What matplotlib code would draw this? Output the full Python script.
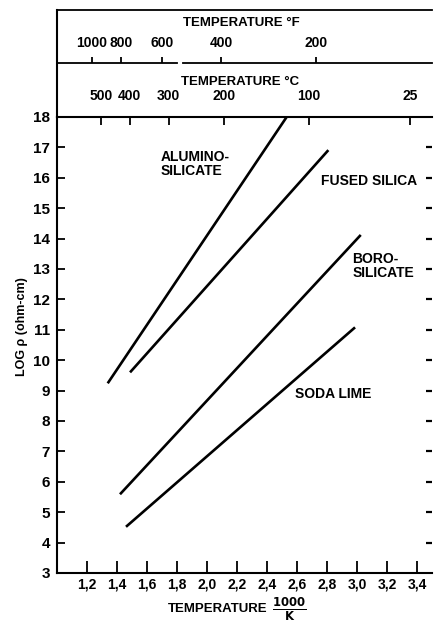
import matplotlib
matplotlib.use("Agg")
import matplotlib.pyplot as plt
import numpy as np

# ---- data ----
alumino_x = [1.338, 2.531]
alumino_y = [9.24, 18.0]
fused_x = [1.487, 2.809]
fused_y = [9.60, 16.91]
boro_x = [1.42, 3.025]
boro_y = [5.59, 14.12]
soda_x = [1.46, 2.987]
soda_y = [4.52, 11.08]

x_ticks = [1.2, 1.4, 1.6, 1.8, 2.0, 2.2, 2.4, 2.6, 2.8, 3.0, 3.2, 3.4]
x_ticklabels = ["1,2", "1,4", "1,6", "1,8", "2,0", "2,2", "2,4", "2,6", "2,8", "3,0", "3,2", "3,4"]
y_ticks = list(range(3, 19))
right_ticks = list(range(4, 18))
celsius_ticks = [500, 400, 300, 200, 100, 25]
fahrenheit_ticks = [1000, 800, 600, 400, 200]

FAM = ['Liberation Sans Narrow', 'Liberation Sans', 'DejaVu Sans']
plt.rcParams['font.family'] = FAM
plt.rcParams['font.weight'] = 'bold'
plt.rcParams['mathtext.fontset'] = 'custom'
plt.rcParams['mathtext.rm'] = 'Liberation Sans Narrow:bold'
plt.rcParams['mathtext.it'] = 'Liberation Sans Narrow:bold'

W, H = 434, 631
fig = plt.figure(figsize=(W / 100, H / 100), dpi=100)
L, R, T, B = 57, 432, 117, 573
ax = fig.add_axes([L / W, 1 - B / H, (R - L) / W, (B - T) / H])
ax.set_xlim(1.0, 3.5)
ax.set_ylim(3, 18)

lw = 1.9
for xs, ys in [(alumino_x, alumino_y), (fused_x, fused_y), (boro_x, boro_y), (soda_x, soda_y)]:
    ax.plot(xs, ys, color='black', lw=lw, solid_capstyle='butt')

for s in ['left', 'bottom', 'top']:
    ax.spines[s].set_linewidth(1.5)
ax.spines['right'].set_visible(False)

ax.set_xticks(x_ticks)
ax.set_xticklabels(x_ticklabels, fontsize=10, fontweight='bold')
ax.tick_params(axis='x', direction='in', length=8.5, width=1.3, pad=3, top=False)
ax.set_yticks(y_ticks)
ax.set_yticklabels([str(v) for v in y_ticks], fontsize=11, fontweight='bold')
ax.tick_params(axis='y', direction='in', length=6, width=1.3, pad=5)

# right-hand tick dashes
axr = ax.twinx()
axr.set_ylim(3, 18)
for s in axr.spines.values():
    s.set_visible(False)
axr.set_yticks(right_ticks)
axr.set_yticklabels([])
axr.tick_params(axis='y', direction='in', length=4, width=1.6, pad=0)

# Celsius axis (on top spine)
def x_to_c(x):
    x = np.asarray(x, dtype=float)
    with np.errstate(divide='ignore'):
        return 1000.0 / x - 273.15

def c_to_x(c):
    c = np.asarray(c, dtype=float)
    with np.errstate(divide='ignore'):
        return 1000.0 / (c + 273.15)

secc = ax.secondary_xaxis('top', functions=(x_to_c, c_to_x))
secc.set_xticks(celsius_ticks)
secc.set_xticklabels([str(v) for v in celsius_ticks], fontsize=10, fontweight='bold')
secc.tick_params(direction='in', length=6, width=1.3, pad=10)
secc.spines['top'].set_visible(False)

# Fahrenheit axis
def x_to_f(x):
    return x_to_c(x) * 9 / 5 + 32

def f_to_x(f):
    return c_to_x((np.asarray(f, dtype=float) - 32) * 5 / 9)

f_y = 1 + (T - 63) / (B - T)
secf = ax.secondary_xaxis(f_y, functions=(x_to_f, f_to_x))
secf.set_xticks(fahrenheit_ticks)
secf.set_xticklabels([str(v) for v in fahrenheit_ticks], fontsize=10, fontweight='bold')
secf.tick_params(direction='out', length=4, width=1.3, pad=5)
secf.spines['top'].set_visible(False)

trans = ax.get_xaxis_transform()
ax.plot([1.0, 1.80], [f_y, f_y], color='black', lw=1.3, transform=trans, clip_on=False)
ax.plot([1.84, 3.5], [f_y, f_y], color='black', lw=1.3, transform=trans, clip_on=False)
top_y = 1 + (T - 10) / (B - T)
ax.plot([1.0, 3.5], [top_y, top_y], color='black', lw=1.3, transform=trans, clip_on=False)
ax.plot([1.0, 1.0], [1.0, top_y], color='black', lw=1.5, transform=trans, clip_on=False)

fig.text(241 / W, 1 - 23 / H, "TEMPERATURE °F", ha='center', va='center', fontsize=9.5, fontweight='bold')
fig.text(240 / W, 1 - 82 / H, "TEMPERATURE °C", ha='center', va='center', fontsize=9.5, fontweight='bold')

# axis labels
fig.text(267 / W, 1 - 609 / H, "TEMPERATURE", ha='right', va='center', fontsize=9.5, fontweight='bold')
fig.text(272 / W, 1 - 609 / H, r"$\frac{1000}{\mathrm{K}}$", ha='left', va='center', fontsize=12)
fig.text(22 / W, 1 - 327 / H, "LOG ρ (ohm-cm)", rotation=90, ha='center', va='center', fontsize=9, fontweight='bold')

# curve labels
ax.text(1.693, 16.45, "ALUMINO-\nSILICATE", ha='left', va='center', fontsize=10, fontweight='bold', linespacing=1.05)
ax.text(2.76, 15.9, "FUSED SILICA", ha='left', va='center', fontsize=10, fontweight='bold')
ax.text(2.97, 13.1, "BORO-\nSILICATE", ha='left', va='center', fontsize=10, fontweight='bold', linespacing=1.05)
ax.text(2.587, 8.88, "SODA LIME", ha='left', va='center', fontsize=10, fontweight='bold')

fig.savefig("out.png", dpi=100)
